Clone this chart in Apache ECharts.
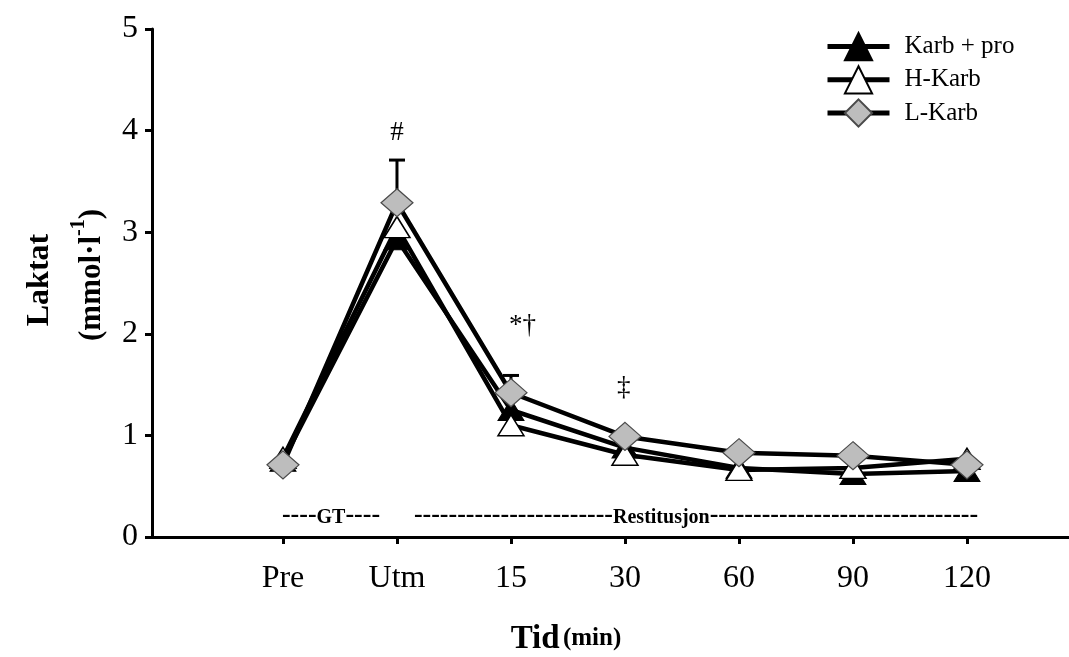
<!DOCTYPE html>
<html>
<head>
<meta charset="utf-8">
<script src="https://cdn.jsdelivr.net/npm/echarts@6/dist/echarts.min.js"></script>
<style>
  html, body { margin: 0; padding: 0; background: #fff; }
  #chart { width: 1069px; height: 657px; }
</style>
</head>
<body>
<div id="chart"></div>
<script>
// Time points along the x axis
const timeLabels = ['Pre', 'Utm', '15', '30', '60', '90', '120'];

// Blood lactate (mmol/l) per group
const karbPro = [0.75, 2.93, 1.25, 0.88, 0.68, 0.62, 0.65];
const hKarb   = [0.78, 3.05, 1.10, 0.81, 0.66, 0.68, 0.77];
const lKarb   = [0.71, 3.29, 1.42, 0.99, 0.83, 0.80, 0.71];

// Upper error (SD) for L-Karb
const lKarbErr = [null, 0.42, 0.17, null, null, null, null];

// Significance markers, placed in data coordinates
const sigLabels = ['#', '*†', '‡'];
const sigX = [1, 2.1, 2.99];
const sigY = [3.98, 2.08, 1.47];

const yTicks = [0, 1, 2, 3, 4, 5];

const SERIF = '"Liberation Serif", "Times New Roman", serif';
const toPoints = arr => arr.map((v, i) => [i, v]);
const tickIdx = timeLabels.map((_, i) => i);

const chart = echarts.init(document.getElementById('chart'));

const lineBase = {
  type: 'line',
  lineStyle: { color: '#000', width: 4.5 },
  z: 3
};

chart.setOption({
  animation: false,
  backgroundColor: '#fff',
  grid: { left: 152, right: 0, top: 29, bottom: 120 },
  legend: {
    orient: 'vertical',
    left: 820,
    top: 27,
    itemWidth: 62,
    itemHeight: 34,
    itemGap: 4,
    lineStyle: { color: '#000', width: 5 },
    textStyle: { fontFamily: SERIF, fontSize: 25, color: '#000', padding: [0, 0, 0, 10] },
    data: ['Karb + pro', 'H-Karb', 'L-Karb']
  },
  xAxis: {
    type: 'value',
    min: -1.149,
    max: 6.895,
    splitLine: { show: false },
    axisLine: { show: true, lineStyle: { color: '#000', width: 3 } },
    axisTick: { show: true, customValues: tickIdx, length: 7, lineStyle: { color: '#000', width: 3 } },
    axisLabel: {
      customValues: tickIdx,
      formatter: v => timeLabels[Math.round(v)],
      fontFamily: SERIF, fontSize: 32, color: '#000', margin: 26
    }
  },
  yAxis: {
    type: 'value',
    min: yTicks[0],
    max: yTicks[yTicks.length - 1],
    interval: 1,
    splitLine: { show: false },
    axisLine: { show: true, onZero: false, lineStyle: { color: '#000', width: 3 } },
    axisTick: { show: true, length: 7, lineStyle: { color: '#000', width: 3 } },
    axisLabel: { fontFamily: SERIF, fontSize: 32, color: '#000', margin: 14 }
  },
  series: [
    {
      type: 'custom',
      name: 'err',
      z: 1,
      renderItem: (params, api) => {
        const x = api.value(0), y = api.value(1), e = api.value(2);
        const p0 = api.coord([x, y]);
        const p1 = api.coord([x, y + e]);
        return {
          type: 'group',
          children: [
            { type: 'line', shape: { x1: p0[0], y1: p0[1], x2: p1[0], y2: p1[1] }, style: { stroke: '#000', lineWidth: 3 } },
            { type: 'line', shape: { x1: p1[0] - 8, y1: p1[1], x2: p1[0] + 8, y2: p1[1] }, style: { stroke: '#000', lineWidth: 3 } }
          ]
        };
      },
      data: lKarbErr.map((e, i) => e == null ? null : [i, lKarb[i], e]).filter(d => d)
    },
    Object.assign({}, lineBase, {
      name: 'Karb + pro',
      data: toPoints(karbPro),
      symbol: 'triangle',
      symbolSize: [26, 21],
      itemStyle: { color: '#000', borderColor: '#000', borderWidth: 1 }
    }),
    Object.assign({}, lineBase, {
      name: 'H-Karb',
      data: toPoints(hKarb),
      symbol: 'triangle',
      symbolSize: [26, 21],
      itemStyle: { color: '#fff', borderColor: '#000', borderWidth: 1.5 }
    }),
    Object.assign({}, lineBase, {
      name: 'L-Karb',
      data: toPoints(lKarb),
      symbol: 'diamond',
      symbolSize: [32, 28],
      itemStyle: { color: '#bdbdbd', borderColor: '#4a4a4a', borderWidth: 1.2 }
    }),
    {
      type: 'custom',
      name: 'sig',
      z: 5,
      renderItem: (params, api) => {
        const p = api.coord([api.value(0), api.value(1)]);
        return {
          type: 'text',
          x: p[0], y: p[1],
          style: {
            text: sigLabels[params.dataIndex],
            font: '27px ' + SERIF,
            fill: '#000',
            align: 'center',
            verticalAlign: 'middle'
          }
        };
      },
      data: sigX.map((x, i) => [x, sigY[i]])
    }
  ],
  graphic: [
    {
      type: 'text', x: 40, y: 280, rotation: Math.PI / 2,
      style: { text: 'Laktat', font: 'bold 32px ' + SERIF, fill: '#000', align: 'center', verticalAlign: 'middle' }
    },
    {
      type: 'text', x: 88, y: 275, rotation: Math.PI / 2,
      style: {
        text: '{a|(mmol·l}{s|-1}{a|)}',
        align: 'center', verticalAlign: 'middle', fill: '#000',
        rich: {
          a: { font: 'bold 31px ' + SERIF, lineHeight: 38, verticalAlign: 'bottom' },
          s: { font: 'bold 20px ' + SERIF, lineHeight: 38, verticalAlign: 'top' }
        }
      }
    },
    {
      type: 'text', x: 566, y: 638,
      style: {
        text: '{b|Tid} {c|(min)}',
        align: 'center', verticalAlign: 'middle', fill: '#000',
        rich: {
          b: { font: 'bold 33px ' + SERIF, lineHeight: 36, verticalAlign: 'bottom' },
          c: { font: 'bold 25px ' + SERIF, lineHeight: 36, verticalAlign: 'bottom', padding: [0, 0, 5, 0] }
        }
      }
    },
    {
      type: 'text', x: 331, y: 515,
      style: {
        text: '{d|----}{w|GT}{d|----}',
        align: 'center', verticalAlign: 'middle', fill: '#000',
        rich: {
          d: { font: 'bold 26px ' + SERIF, lineHeight: 26, verticalAlign: 'bottom' },
          w: { font: 'bold 20px ' + SERIF, lineHeight: 26, verticalAlign: 'bottom' }
        }
      }
    },
    {
      type: 'text', x: 696, y: 515,
      style: {
        text: '{d|-----------------------}{w|Restitusjon}{d|-------------------------------}',
        align: 'center', verticalAlign: 'middle', fill: '#000',
        rich: {
          d: { font: 'bold 26px ' + SERIF, lineHeight: 26, verticalAlign: 'bottom' },
          w: { font: 'bold 20px ' + SERIF, lineHeight: 26, verticalAlign: 'bottom' }
        }
      }
    }
  ]
});
</script>
</body>
</html>
